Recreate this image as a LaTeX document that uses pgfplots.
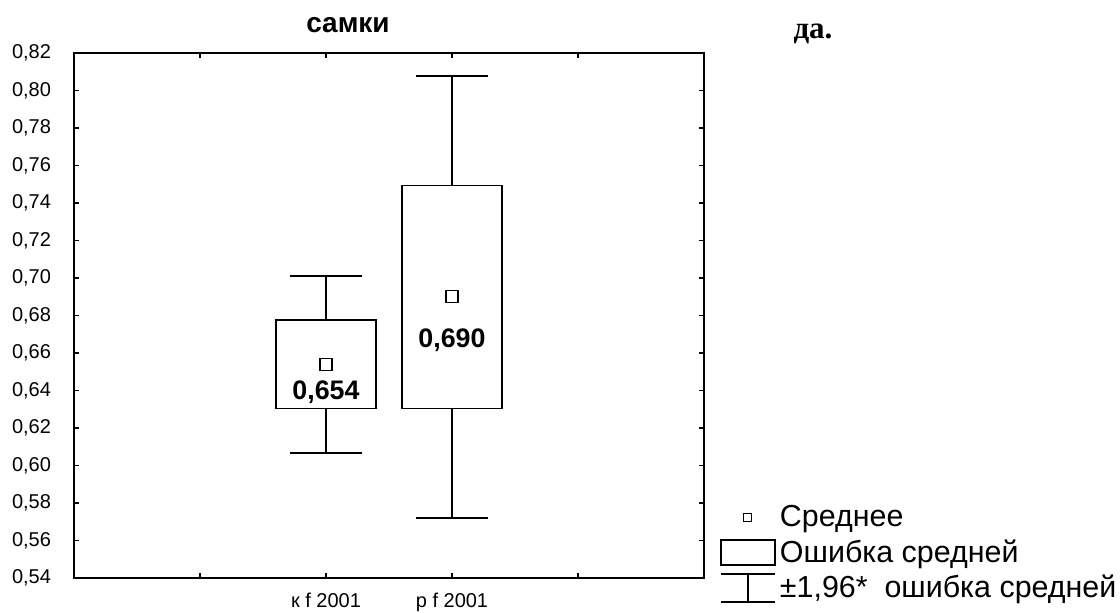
\documentclass[border=0pt]{standalone}
\usepackage{fontspec}
\setmainfont{Liberation Sans}
\newfontfamily\seriffont{Liberation Serif}
\usepackage{pgfplots}
\pgfplotsset{compat=1.18}
\begin{document}
\begin{tikzpicture}
\useasboundingbox (0,0) rectangle (560bp,306.5bp);
\begin{axis}[
  at={(37bp,17.5bp)}, anchor=south west,
  scale only axis, width=315bp, height=262.6bp,
  xmin=0, xmax=5, ymin=0.54, ymax=0.82,
  xtick={1,2,3,4},
  xticklabels={{},{к f 2001},{р f 2001},{}},
  ytick={0.54,0.56,0.58,0.60,0.62,0.64,0.66,0.68,0.70,0.72,0.74,0.76,0.78,0.80,0.82},
  /pgf/number format/assume math mode=true,
  tick align=inside, major tick length=2.5bp,
  axis line style={line width=1bp},
  every tick/.style={black, line width=0.8bp},
  tick label style={font=\fontsize{10bp}{12bp}\selectfont},
  yticklabel style={xshift=-8bp, /pgf/number format/.cd, fixed, fixed zerofill, precision=2, use comma},
  xticklabel style={yshift=-4bp},
  legend style={at={(1,0)}, anchor=south west, xshift=8bp, yshift=-13.5bp,
    draw=none, fill=none, inner sep=0pt,
    font=\fontsize{15.2bp}{18bp}\selectfont, row sep=1bp},
  legend cell align=left,
  seg/.style={black, line width=0.9bp, mark=none, forget plot},
]
% group 1: к f 2001 (mean 0.654)
\addplot[seg] coordinates {(1.605,0.6304) (2.395,0.6304) (2.395,0.6775) (1.605,0.6775)} --cycle;
\addplot[seg] coordinates {(2,0.6775) (2,0.7011)};
\addplot[seg] coordinates {(1.715,0.7011) (2.285,0.7011)};
\addplot[seg] coordinates {(2,0.6304) (2,0.6065)};
\addplot[seg] coordinates {(1.715,0.6065) (2.285,0.6065)};
% group 2: p f 2001 (mean 0.690)
\addplot[seg] coordinates {(2.605,0.6304) (3.395,0.6304) (3.395,0.7493) (2.605,0.7493)} --cycle;
\addplot[seg] coordinates {(3,0.7493) (3,0.8076)};
\addplot[seg] coordinates {(2.715,0.8076) (3.285,0.8076)};
\addplot[seg] coordinates {(3,0.6304) (3,0.5718)};
\addplot[seg] coordinates {(2.715,0.5718) (3.285,0.5718)};
% means
\addplot[black, only marks, mark=square, mark size=3bp, mark options={line width=0.6bp}, forget plot]
  coordinates {(2,0.654) (3,0.690)};
\node[font=\bfseries\fontsize{13.4bp}{15bp}\selectfont, anchor=base] at (axis cs:2,0.6349) {0,654};
\node[font=\bfseries\fontsize{13.4bp}{15bp}\selectfont, anchor=base] at (axis cs:3,0.6631) {0,690};
\addlegendimage{legend image code/.code={\draw[line width=0.6bp] (11bp,-2bp) rectangle (15bp,2bp);}}
\addlegendentry{Среднее}
\addlegendimage{legend image code/.code={\draw[line width=0.8bp] (0bp,-6.25bp) rectangle (27bp,6.25bp);}}
\addlegendentry{Ошибка средней}
\addlegendimage{legend image code/.code={\draw[line width=0.8bp] (0bp,7bp)--(27bp,7bp) (0bp,-7bp)--(27bp,-7bp) (13.5bp,7bp)--(13.5bp,-7bp);}}
\addlegendentry{±1,96*\ \ ошибка средней}
\end{axis}
\node[font=\bfseries\fontsize{14bp}{16bp}\selectfont] at (174bp,294bp) {самки};
\node[font=\seriffont\bfseries\fontsize{15.5bp}{18bp}\selectfont] at (406.5bp,289.5bp) {да.};
\end{tikzpicture}
\end{document}
